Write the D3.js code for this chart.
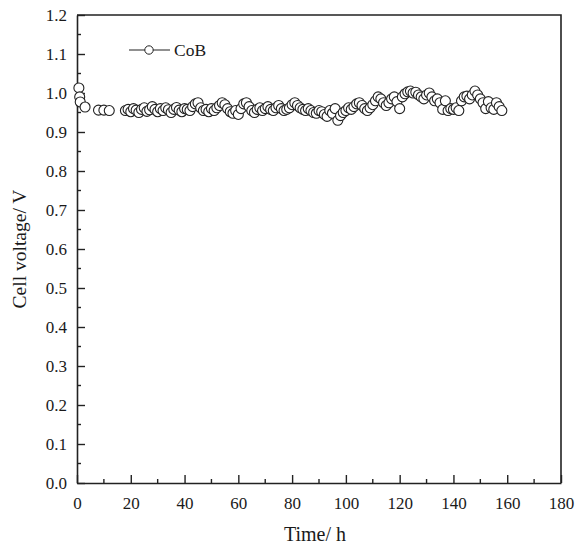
<!DOCTYPE html>
<html>
<head>
<meta charset="utf-8">
<script src="https://cdn.jsdelivr.net/npm/d3@7"></script>
<style>
  body { margin: 0; background: #fff; }
  text { font-family: "Liberation Serif", "Times New Roman", serif; fill: #1a1a1a; }
</style>
</head>
<body>
<div class="chart"></div>
<script>
// chart size
var svgWidth = 577;
var svgHeight = 547;

var margin = { top: 15, right: 16, bottom: 64, left: 77 };
var width = svgWidth - margin.left - margin.right;
var height = svgHeight - margin.top - margin.bottom;

// data
var seriesName = "CoB";
var timeH = [0.7, 1, 1.2, 3, 8, 10, 12,
  18, 19, 20, 21, 22, 23, 24, 25, 26, 27,
  28, 29, 30, 31, 32, 33, 34, 35, 36, 37,
  38, 39, 40, 41, 42, 43, 44, 45, 46, 47,
  48, 49, 50, 51, 52, 53, 54, 55, 56, 57,
  58, 59, 60, 61, 62, 63, 64, 65, 66, 67,
  68, 69, 70, 71, 72, 73, 74, 75, 76, 77,
  78, 79, 80, 81, 82, 83, 84, 85, 86, 87,
  88, 89, 90, 91, 92, 93, 94, 95, 96, 97,
  98, 99, 100, 101, 102, 103, 104, 105, 106, 107,
  108, 109, 110, 111, 112, 113, 114, 115, 116, 117,
  118, 119, 120, 121, 122, 123, 124, 125, 126, 127,
  128, 129, 130, 131, 132, 133, 134, 135, 136, 137,
  138, 139, 140, 141, 142, 143, 144, 145, 146, 147,
  148, 149, 150, 151, 152, 153, 154, 155, 156, 157,
  158];
var voltage = [1.013, 0.99, 0.977, 0.964, 0.956, 0.956, 0.955,
  0.955, 0.958, 0.952, 0.960, 0.956, 0.950, 0.958, 0.962, 0.953, 0.957,
  0.965, 0.958, 0.952, 0.960, 0.955, 0.962, 0.957, 0.950, 0.958, 0.963,
  0.956, 0.952, 0.960, 0.958, 0.955, 0.965, 0.972, 0.975, 0.962, 0.955,
  0.958, 0.952, 0.960, 0.955, 0.962, 0.968, 0.975, 0.970, 0.960, 0.952,
  0.948, 0.955, 0.945, 0.960, 0.972, 0.975, 0.965, 0.955, 0.950, 0.958,
  0.962, 0.955, 0.960, 0.965, 0.958, 0.955, 0.962, 0.968, 0.960, 0.955,
  0.958, 0.962, 0.970, 0.975, 0.968, 0.962, 0.958, 0.955, 0.960, 0.955,
  0.950, 0.948, 0.955, 0.952, 0.945, 0.940, 0.955, 0.948, 0.960, 0.930,
  0.942, 0.950, 0.955, 0.962, 0.958, 0.965, 0.972, 0.975, 0.968, 0.960,
  0.955, 0.962, 0.970, 0.980, 0.990, 0.985, 0.975, 0.968, 0.975, 0.985,
  0.990, 0.978, 0.960, 0.990, 0.998, 1.003, 1.005, 1.000, 1.002, 0.995,
  0.990, 0.985, 0.995, 1.000, 0.990, 0.980, 0.985, 0.975, 0.958, 0.980,
  0.955, 0.960, 0.958, 0.962, 0.955, 0.980, 0.990, 0.992, 0.985, 0.995,
  1.005, 0.995, 0.985, 0.975, 0.960, 0.978, 0.962, 0.958, 0.975, 0.965,
  0.955];
var xTicks = [0, 20, 40, 60, 80, 100, 120, 140, 160, 180];
var xMinorTicks = [10, 30, 50, 70, 90, 110, 130, 150, 170];
var yTicks = [0, 0.1, 0.2, 0.3, 0.4, 0.5, 0.6, 0.7, 0.8, 0.9, 1.0, 1.1, 1.2];
var yMinorTicks = [0.05, 0.15, 0.25, 0.35, 0.45, 0.55, 0.65, 0.75, 0.85, 0.95, 1.05, 1.15];

var points = timeH.map(function (t, i) { return { t: t, v: voltage[i] }; });

var svg = d3.select(".chart")
  .append("svg")
  .attr("width", svgWidth)
  .attr("height", svgHeight);

var chartGroup = svg.append("g")
  .attr("transform", `translate(${margin.left}, ${margin.top})`);

// scales
var xScale = d3.scaleLinear().domain([0, 180]).range([0, width]);
var yScale = d3.scaleLinear().domain([0, 1.2]).range([height, 0]);

// bottom axis, ticks pointing inward
var bottomAxis = d3.axisBottom(xScale)
  .tickValues(xTicks)
  .tickSizeInner(-8)
  .tickSizeOuter(0)
  .tickPadding(14)
  .tickFormat(d3.format("d"));

var xAxis = chartGroup.append("g")
  .attr("transform", `translate(0, ${height})`)
  .call(bottomAxis);

xAxis.append("g").selectAll("line")
  .data(xMinorTicks).enter().append("line")
  .attr("x1", d => xScale(d)).attr("x2", d => xScale(d))
  .attr("y1", 0).attr("y2", -4);

// left axis
var leftAxis = d3.axisLeft(yScale)
  .tickValues(yTicks)
  .tickSizeInner(-8)
  .tickSizeOuter(0)
  .tickPadding(10)
  .tickFormat(d3.format(".1f"));

var yAxis = chartGroup.append("g").call(leftAxis);

yAxis.append("g").selectAll("line")
  .data(yMinorTicks).enter().append("line")
  .attr("x1", 0).attr("x2", 4)
  .attr("y1", d => yScale(d)).attr("y2", d => yScale(d));

[xAxis, yAxis].forEach(function (ax) {
  ax.selectAll("path.domain").attr("stroke", "#222").attr("stroke-width", 1.6);
  ax.selectAll("line").attr("stroke", "#222").attr("stroke-width", 1.4);
  ax.selectAll("text")
    .attr("font-family", "Liberation Serif, serif")
    .attr("font-size", 17)
    .attr("fill", "#1a1a1a");
});

// top and right frame
chartGroup.append("path")
  .attr("d", `M0,0H${width}V${height}`)
  .attr("fill", "none")
  .attr("stroke", "#222")
  .attr("stroke-width", 1.6);

// markers
chartGroup.append("g").selectAll("circle")
  .data(points).enter().append("circle")
  .attr("cx", d => xScale(d.t))
  .attr("cy", d => yScale(d.v))
  .attr("r", 5)
  .attr("fill", "#fff")
  .attr("stroke", "#222")
  .attr("stroke-width", 1.1);

// legend
var legend = svg.append("g").attr("transform", "translate(129, 50)");
legend.append("line")
  .attr("x1", 0).attr("x2", 41).attr("y1", 0).attr("y2", 0)
  .attr("stroke", "#222").attr("stroke-width", 1.2);
legend.append("circle")
  .attr("cx", 20).attr("cy", 0).attr("r", 4.2)
  .attr("fill", "#fff").attr("stroke", "#222").attr("stroke-width", 1);
legend.append("text")
  .attr("x", 45).attr("y", 6)
  .attr("font-size", 17.5)
  .text(seriesName);

// axis titles
svg.append("text")
  .attr("x", 315)
  .attr("y", 541)
  .attr("text-anchor", "middle")
  .attr("font-size", 20)
  .text("Time/ h");

svg.append("text")
  .attr("transform", "rotate(-90)")
  .attr("x", -(margin.top + height / 2))
  .attr("y", 26)
  .attr("text-anchor", "middle")
  .attr("font-size", 19.5)
  .text("Cell voltage/ V");
</script>
</body>
</html>
